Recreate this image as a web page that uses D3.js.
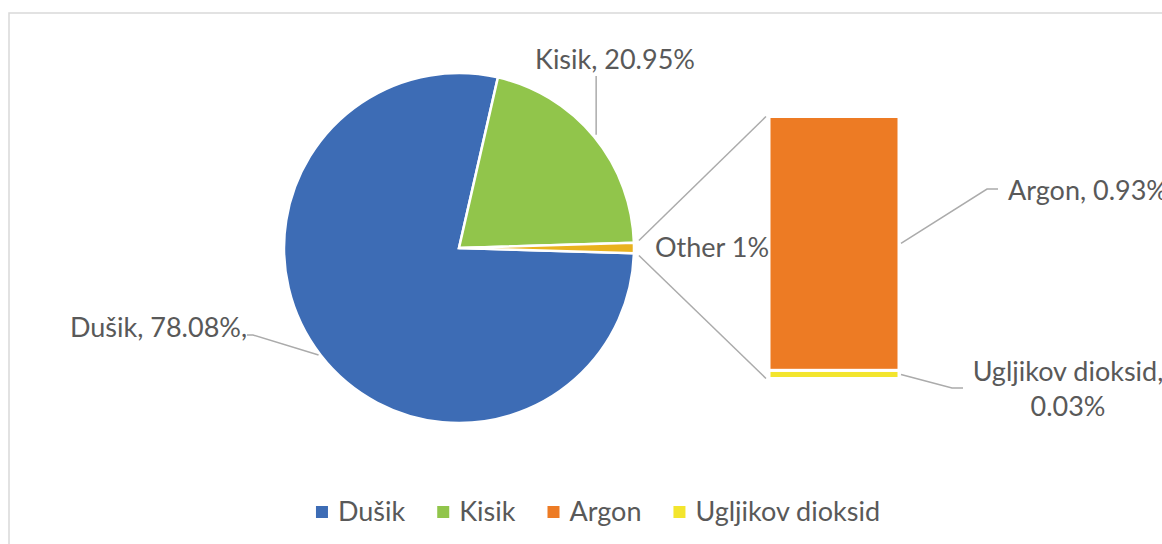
<!DOCTYPE html>
<html>
<head>
<meta charset="utf-8">
<script src="https://cdn.jsdelivr.net/npm/d3@7"></script>
<style>
  html, body { margin: 0; padding: 0; background: #fff; }
  svg { display: block; }
  text { font-family: Lato, "Open Sans", sans-serif; fill: #595959; }
</style>
</head>
<body>
<svg id="chart" width="1162" height="544"></svg>
<script>
// ---- data ----
const pieCategories = ["Dušik", "Kisik", "Other"];
const pieValues = [78.08, 20.95, 0.96];
const pieLabels = ["Dušik, 78.08%,", "Kisik, 20.95%", "Other 1%"];
const barCategories = ["Ugljikov dioksid", "Argon"];   // stacked bottom -> top
const barValues = [0.03, 0.93];
const legendLabels = ["Dušik", "Kisik", "Argon", "Ugljikov dioksid"];

// ---- styles ----
const colors = {
  "Dušik": "#3D6CB5",
  "Kisik": "#91C54B",
  "Other": "#E9B21F",
  "Argon": "#ED7B24",
  "Ugljikov dioksid": "#F3E52D"
};
const lineColor = "#ABABAB";
const fontSize = 27;

const svg = d3.select("#chart");

// chart border
svg.append("rect").attr("x", 9).attr("y", 13).attr("width", 1170).attr("height", 560)
  .attr("fill", "none").attr("stroke", "#D9D9D9").attr("stroke-width", 1.5);

// ---- pie ----
const cx = 459, cy = 248, R = 175;
const total = d3.sum(pieValues);
const half = (pieValues[2] / total) * Math.PI;
const pie = d3.pie().sort(null).value(d => d)
  .startAngle(Math.PI / 2 + half).endAngle(Math.PI / 2 + half + 2 * Math.PI);
const arcs = pie(pieValues);
const arc = d3.arc().innerRadius(0).outerRadius(R);
const gPie = svg.append("g").attr("transform", `translate(${cx},${cy})`);
gPie.selectAll("path").data(arcs).join("path")
  .attr("d", arc)
  .attr("fill", (d, i) => colors[pieCategories[i]])
  .attr("stroke", "#fff").attr("stroke-width", 2.5).attr("stroke-linejoin", "miter");

const polar = (a, r) => [cx + r * Math.sin(a), cy - r * Math.cos(a)];

// ---- bar ----
const barX0 = 769, barX1 = 899;
const y = d3.scaleLinear().domain([0, d3.sum(barValues)]).range([378.5, 116.5]);
const stacked = [];
let acc = 0;
barValues.forEach((v, i) => { stacked.push({ name: barCategories[i], y0: acc, y1: acc + v }); acc += v; });
svg.append("g").selectAll("rect").data(stacked).join("rect")
  .attr("x", barX0).attr("width", barX1 - barX0)
  .attr("y", d => y(d.y1)).attr("height", d => y(d.y0) - y(d.y1))
  .attr("fill", d => colors[d.name])
  .attr("stroke", "#fff").attr("stroke-width", 3);

// connector lines
const otherArc = arcs[2];
const pTop = polar(otherArc.startAngle, R + 5);
const pBot = polar(otherArc.endAngle, R + 5);
const conn = svg.append("g").attr("stroke", lineColor).attr("stroke-width", 1.5).attr("fill", "none");
conn.append("line").attr("x1", pTop[0]).attr("y1", pTop[1] - 2).attr("x2", barX0 - 3).attr("y2", y(acc));
conn.append("line").attr("x1", pBot[0]).attr("y1", pBot[1] + 2).attr("x2", barX0 - 3).attr("y2", y(0));

// ---- labels ----
const lab = svg.append("g").attr("font-size", fontSize);
const leaders = svg.append("g").attr("stroke", lineColor).attr("stroke-width", 1.5).attr("fill", "none");

// Dušik
{
  const a = (arcs[0].startAngle + arcs[0].endAngle) / 2;
  const p = polar(a, R);
  leaders.append("polyline").attr("points", [[p[0] - 2, p[1]], [253, 335], [247, 335]].map(q => q.join(",")).join(" "));
  lab.append("text").attr("x", 70).attr("y", 337).text(pieLabels[0]);
}
// Kisik
{
  const a = (arcs[1].startAngle + arcs[1].endAngle) / 2;
  const p = polar(a, R);
  leaders.append("polyline").attr("points", [[p[0] + 2, p[1] - 2], [p[0] + 2, 76]].map(q => q.join(",")).join(" "));
  lab.append("text").attr("x", 535).attr("y", 69).text(pieLabels[1]);
}
// Other
lab.append("text").attr("x", 655).attr("y", 257).text(pieLabels[2]);

// Argon
{
  const s = stacked[1];
  const my = (y(s.y0) + y(s.y1)) / 2;
  leaders.append("polyline").attr("points", [[barX1 + 2, my], [987, 189], [998, 189]].map(q => q.join(",")).join(" "));
  lab.append("text").attr("x", 1008).attr("y", 200).text(`${s.name}, ${barValues[1].toFixed(2)}%`);
}
// Ugljikov dioksid
{
  const s = stacked[0];
  const my = (y(s.y0) + y(s.y1)) / 2;
  leaders.append("polyline").attr("points", [[barX1 + 2, my], [952, 388], [963, 388]].map(q => q.join(",")).join(" "));
  const t = lab.append("text").attr("text-anchor", "middle");
  t.append("tspan").attr("x", 1068).attr("y", 381).text(`${s.name},`);
  t.append("tspan").attr("x", 1068).attr("y", 416).text(`${barValues[0].toFixed(2)}%`);
}

// ---- legend ----
const legend = svg.append("g").attr("font-size", fontSize);
const sq = 12, gapSq = 10, gapItem = 32;
const items = legendLabels.map(name => {
  const g = legend.append("g");
  g.append("rect").attr("width", sq).attr("height", sq).attr("y", -sq / 2).attr("fill", colors[name]);
  const t = g.append("text").attr("x", sq + gapSq).attr("y", 9).text(name);
  return { g, w: sq + gapSq + t.node().getComputedTextLength() };
});
const totalW = d3.sum(items, d => d.w) + gapItem * (items.length - 1);
let lx = 598 - totalW / 2;
items.forEach(it => { it.g.attr("transform", `translate(${lx},512)`); lx += it.w + gapItem; });
</script>
</body>
</html>
